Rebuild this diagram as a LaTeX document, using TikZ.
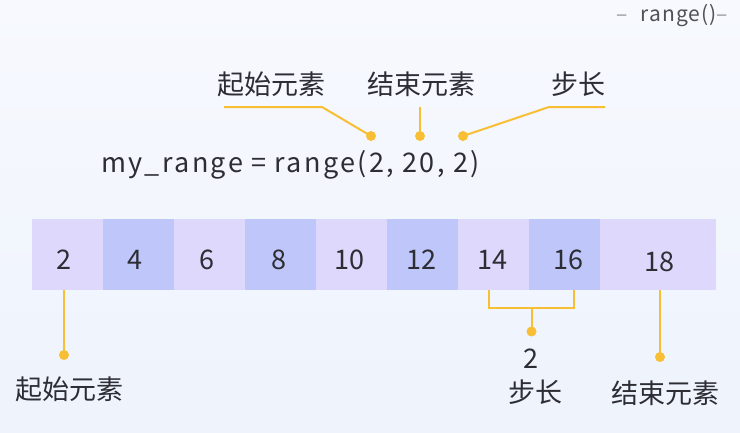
\documentclass[tikz,border=0pt]{standalone}
\usepackage{fontspec}
\newfontfamily\cjk{Noto Sans CJK SC}
\newfontfamily\cjkwide[LetterSpace=8.7]{Noto Sans CJK SC}
\newfontfamily\cjktitle[LetterSpace=5]{Noto Sans CJK SC}
\definecolor{bgtop}{RGB}{247,249,254}
\definecolor{bgbot}{RGB}{238,243,252}
\definecolor{cellL}{RGB}{222,216,253}
\definecolor{cellD}{RGB}{190,198,250}
\definecolor{ink}{RGB}{45,45,52}
\definecolor{gold}{RGB}{248,190,52}
\definecolor{greyink}{RGB}{80,80,88}
\tikzset{
  cellbox/.style={draw=none,inner sep=0pt,minimum height=71pt,anchor=north west},
  num/.style={font=\cjk\fontsize{27}{30}\selectfont,text=ink,inner sep=0pt},
  lbl/.style={font=\cjk\fontsize{27}{30}\selectfont,text=ink,inner sep=0pt},
  code/.style={font=\cjkwide\fontsize{27}{30}\selectfont,text=ink,inner sep=0pt,anchor=west},
  lead/.style={draw=gold,line width=2pt},
  dotc/.style={circle,fill=gold,minimum size=10pt,inner sep=0pt},
}
\begin{document}
\begin{tikzpicture}[x=1pt,y=-1pt]
\useasboundingbox (0,0) rectangle (740,432);
\shade[top color=bgtop,bottom color=bgbot] (0,0) rectangle (740,432);

% title
\node[font=\cjktitle\fontsize{21}{24}\selectfont,text=greyink,inner sep=0pt,anchor=east] (title) at (728,16) {{\color{greyink!60}–}\,\, range(){\color{greyink!60}–}};

% top labels
\node[lbl] (tStart) at (271,84) {起始元素};
\node[lbl] (tEnd) at (421,84) {结束元素};
\node[lbl] (tStep) at (578,84) {步长};

% code
\node[code] (code) at (101,165) {my\_range = range(2, 20, 2)};

% top dots
\node[dotc] (dA) at (371,136) {};
\node[dotc] (dB) at (420,136) {};
\node[dotc] (dC) at (463,136) {};
\coordinate (kA) at (322,107);
\coordinate (kA0) at (224,107);
\coordinate (kB) at (420,107);
\coordinate (kC) at (549,107);
\coordinate (kC0) at (605,107);
\draw[lead] (kA0) -- (kA) -- (dA.center);
\draw[lead] (kB) -- (dB.center);
\draw[lead] (kC0) -- (kC) -- (dC.center);

% cells
\node[cellbox,fill=cellL,minimum width=71pt] (c1) at (32,219) {};
\node[cellbox,fill=cellD,minimum width=71pt] (c2) at (103,219) {};
\node[cellbox,fill=cellL,minimum width=71pt] (c3) at (174,219) {};
\node[cellbox,fill=cellD,minimum width=71pt] (c4) at (245,219) {};
\node[cellbox,fill=cellL,minimum width=71pt] (c5) at (316,219) {};
\node[cellbox,fill=cellD,minimum width=71pt] (c6) at (387,219) {};
\node[cellbox,fill=cellL,minimum width=71pt] (c7) at (458,219) {};
\node[cellbox,fill=cellD,minimum width=71pt] (c8) at (529,219) {};
\node[cellbox,fill=cellL,minimum width=116pt] (c9) at (600,219) {};

\node[num] (n1) at (63.5,260) {2};
\node[num] (n2) at (135,260) {4};
\node[num] (n3) at (206.5,260) {6};
\node[num] (n4) at (279,260) {8};
\node[num] (n5) at (349.5,260) {10};
\node[num] (n6) at (421.5,260) {12};
\node[num] (n7) at (492,260) {14};
\node[num] (n8) at (568,260) {16};
\node[num] (n9) at (659,261.5) {18};

% bottom left
\coordinate (bL) at (64,290);
\node[dotc] (dL) at (64,355) {};
\draw[lead] (bL) -- (dL.center);
\node[lbl] (lStart) at (70,389) {起始元素};

% bracket
\coordinate (bk1) at (489,290);
\coordinate (bk2) at (574,290);
\coordinate (bkm) at (531.5,308);
\node[dotc] (dM) at (531.5,331.5) {};
\draw[lead] (bk1) |- (bkm) -| (bk2);
\draw[lead] (bkm) -- (dM.center);
\node[num] (two) at (531,359) {2};
\node[lbl] (lStep) at (535,392) {步长};

% bottom right
\coordinate (bR) at (660,290);
\node[dotc] (dR) at (660,357) {};
\draw[lead] (bR) -- (dR.center);
\node[lbl] (lEnd) at (665,393) {结束元素};
\end{tikzpicture}
\end{document}
